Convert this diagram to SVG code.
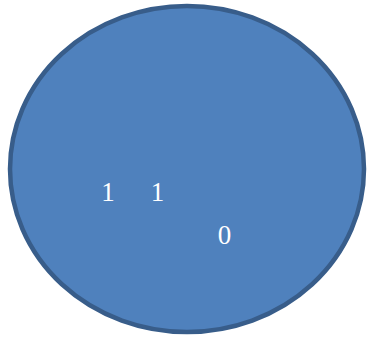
<svg xmlns="http://www.w3.org/2000/svg" width="367" height="340" viewBox="0 0 367 340">
<style>
.lbl{font-family:"Liberation Serif","Times New Roman",serif;font-size:27px;fill:#ffffff;text-anchor:middle}
</style>
<rect width="367" height="340" fill="#ffffff"/>
<g id="circle">
<ellipse cx="187" cy="169" rx="177" ry="163" fill="#4F81BD" stroke="#385D8A" stroke-width="4.5"/>
<text class="lbl" x="108" y="201">1</text>
<text class="lbl" x="157.5" y="201">1</text>
<text class="lbl" x="224.5" y="244">0</text>
</g>
</svg>
